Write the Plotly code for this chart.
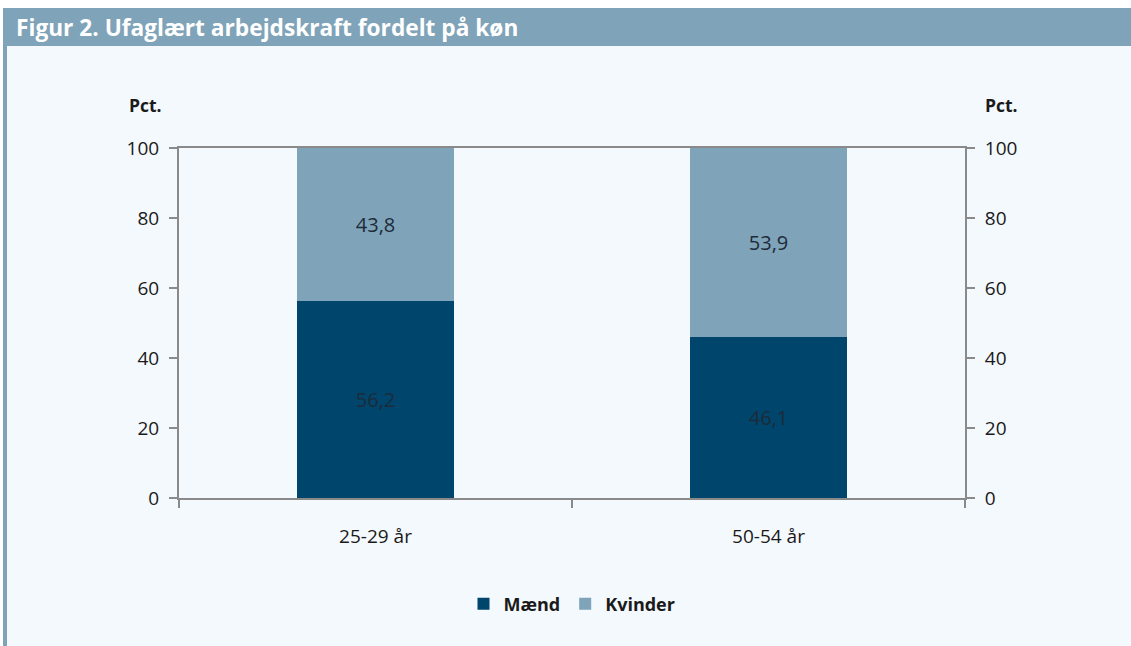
import plotly.graph_objects as go

categories = ["25-29 år", "50-54 år"]
maend = [56.2, 46.1]
kvinder = [43.8, 53.9]
y_ticks = [0, 20, 40, 60, 80, 100]

DARK = "#00466c"
LIGHT = "#7fa3b8"
PANEL = "#f4f9fd"
FONT = "Open Sans"

W, H = 1131, 646
L, R, T, B = 179, 965, 148, 498

def px(x):
    return (x - L) / (R - L)

def py(y):
    return (B - y) / (B - T)

def fmt(v):
    return f"{v:.1f}".replace(".", ",")

fig = go.Figure()
fig.add_trace(go.Bar(
    x=categories, y=maend, name="Mænd", marker=dict(color=DARK, line=dict(width=0)),
    text=[fmt(v) for v in maend], textposition="inside", insidetextanchor="middle",
    textfont=dict(color="#1c2b3a", size=20, family=FONT), hoverinfo="skip",
))
fig.add_trace(go.Bar(
    x=categories, y=kvinder, name="Kvinder", marker=dict(color=LIGHT, line=dict(width=0)),
    text=[fmt(v) for v in kvinder], textposition="inside", insidetextanchor="middle",
    textfont=dict(color="#1c2b3a", size=20, family=FONT), hoverinfo="skip",
))
fig.add_trace(go.Scatter(
    x=categories, y=[None, None], yaxis="y2", showlegend=False, hoverinfo="skip", mode="markers",
))

axis_common = dict(
    range=[0, 100], tickvals=y_ticks, showgrid=False, zeroline=False,
    showline=True, linecolor="#8a8a8a", linewidth=2, ticks="outside", ticklen=8,
    tickcolor="#8a8a8a", tickwidth=2, tickfont=dict(size=19, family=FONT, color="#1a1a1a"),
)

fig.update_layout(
    width=W, height=H,
    margin=dict(l=L, r=W - R, t=T, b=H - B, autoexpand=False),
    paper_bgcolor="white", plot_bgcolor=PANEL,
    barmode="stack", bargap=0.6,
    font=dict(family=FONT, color="#1a1a1a"),
    xaxis=dict(
        showline=True, linecolor="#8a8a8a", linewidth=2, mirror=True,
        ticks="outside", tickson="boundaries", ticklen=8, tickcolor="#8a8a8a", tickwidth=2,
        tickfont=dict(size=19, family=FONT, color="#1a1a1a"), showgrid=False,
        ticklabelstandoff=20,
    ),
    yaxis=dict(side="left", ticklabelstandoff=6, **axis_common),
    yaxis2=dict(side="right", overlaying="y", ticklabelstandoff=6, **axis_common),
    legend=dict(
        orientation="h", x=0.5, xanchor="center", y=py(604), yanchor="middle",
        font=dict(size=18, family=FONT, color="#1a1a1a", weight="bold"),
        bgcolor="rgba(0,0,0,0)", itemwidth=30, traceorder="normal",
    ),
    shapes=[
        dict(type="rect", xref="paper", yref="paper", x0=px(3), x1=px(W), y0=py(H), y1=py(8),
             fillcolor=PANEL, line=dict(width=0), layer="below"),
        dict(type="rect", xref="paper", yref="paper", x0=px(3), x1=px(W), y0=py(46), y1=py(8),
             fillcolor=LIGHT, line=dict(width=0), layer="above"),
        dict(type="rect", xref="paper", yref="paper", x0=px(3), x1=px(7), y0=py(H), y1=py(8),
             fillcolor=LIGHT, line=dict(width=0), layer="above"),
    ],
    annotations=[
        dict(text="Figur 2. Ufaglært arbejdskraft fordelt på køn", xref="paper", yref="paper",
             x=px(14), y=py(27), xanchor="left", yanchor="middle", showarrow=False,
             font=dict(size=22.7, family=FONT, color="white", weight="bold")),
        dict(text="Pct.", xref="paper", yref="paper", x=px(145), y=py(105),
             xanchor="center", yanchor="middle", showarrow=False,
             font=dict(size=17.5, family=FONT, color="#1a1a1a", weight="bold")),
        dict(text="Pct.", xref="paper", yref="paper", x=px(1001), y=py(105),
             xanchor="center", yanchor="middle", showarrow=False,
             font=dict(size=17.5, family=FONT, color="#1a1a1a", weight="bold")),
    ],
)

fig.write_html(
    "out.html",
    config={"displayModeBar": False},
    post_script="document.body.style.margin='0';document.body.style.overflow='hidden';",
)
